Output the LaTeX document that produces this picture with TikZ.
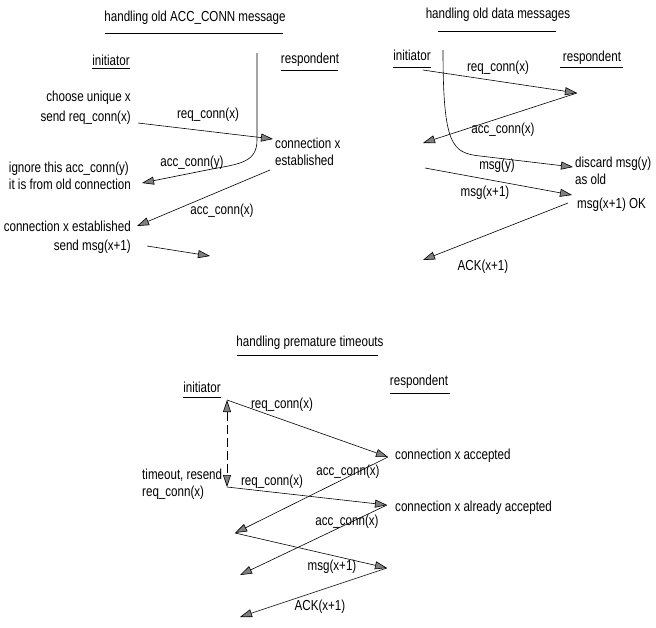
\documentclass[tikz,border=0pt]{standalone}
\usepackage{fontspec}
\setmainfont{Liberation Sans}[FakeStretch=0.8]
\usetikzlibrary{arrows.meta}

\begin{document}
\begin{tikzpicture}[x=1pt,y=-1pt,
    every node/.style={inner sep=0pt, font=\fontsize{14.5}{17}\selectfont},
    sig/.style={line width=0.6pt, -{Triangle[length=12pt,width=8pt,fill=gray]}},
    both/.style={line width=0.6pt, {Triangle[length=12pt,width=8pt,fill=gray]}-{Triangle[length=12pt,width=8pt,fill=gray]}}]
    \useasboundingbox (0,0) rectangle (656,627);

    % Headings
    \node (ttlA) at (195,18) {handling old ACC\_CONN message};
    \node (ttlB) at (498,15) {handling old data messages};
    \node (ttlC) at (310,343) {handling premature timeouts};
    \node (iniA) at (111,60) {initiator};
    \node (resA) at (310,60) {respondent};
    \node (iniB) at (412,55) {initiator};
    \node (resB) at (592,58) {respondent};
    \node (iniC) at (202,387) {initiator};
    \node (resC) at (419,382) {respondent};

    % Underlines
    \foreach \a/\b/\y in {105/283/33, 92/130/68, 281/338/70, 438/556/31, 393/431/67,
                          560/623/67, 237/378/355, 183/221/397, 390/450/393}
        \draw[line width=0.6pt] (\a,\y) -- (\b,\y);

    % ---- handling old ACC_CONN message ----
    \node[anchor=east] (chooseA) at (131,98) {choose unique x};
    \node[anchor=east] (sendA) at (131,118) {send req\_conn(x)};
    \node[anchor=west, align=left] (estA) at (275,152) {connection x\\established};
    \node[anchor=east, align=left] (ignA) at (131,176) {ignore this acc\_conn(y)\\it is from old connection};
    \node[anchor=east] (doneA) at (131,226) {connection x established};
    \node[anchor=east] (msgA) at (131,247) {send msg(x+1)};

    \coordinate (reqA0) at (138,123);
    \coordinate (reqA1) at (273,139);
    \coordinate (oldA0) at (257,53);
    \coordinate (oldA1) at (142,183);
    \coordinate (accA0) at (270,170);
    \coordinate (accA1) at (137,226);
    \coordinate (msgA0) at (147,246);
    \coordinate (msgA1) at (210,256);

    \draw[sig] (reqA0) -- (reqA1);
    \draw[sig] (oldA0) -- (257,140) .. controls (257,162) and (240,164) .. (212,169) -- (oldA1);
    \draw[sig] (accA0) -- (accA1);
    \draw[sig] (msgA0) -- (msgA1);

    \node (lreqA) at (208,115) {req\_conn(x)};
    \node (laccyA) at (192,163) {acc\_conn(y)};
    \node (laccA) at (222,211) {acc\_conn(x)};

    % ---- handling old data messages ----
    \node[anchor=west, align=left] (discB) at (575,171) {discard msg(y)\\as old};
    \node[anchor=west] (okB) at (577,205) {msg(x+1) OK};

    \coordinate (reqB0) at (423,70);
    \coordinate (reqB1) at (577,93);
    \coordinate (accB1) at (423,143);
    \coordinate (oldB0) at (443,50);
    \coordinate (oldB1) at (573,167);
    \coordinate (msgB0) at (425,168);
    \coordinate (msgB1) at (572,195);
    \coordinate (ackB0) at (568,203);
    \coordinate (ackB1) at (423,260);

    \draw[sig] (reqB0) -- (reqB1);
    \draw[sig] (reqB1) -- (accB1);
    \draw[sig] (oldB0) .. controls (443,145) and (452,153) .. (480,156) -- (oldB1);
    \draw[sig] (msgB0) -- (msgB1);
    \draw[sig] (ackB0) -- (ackB1);

    \node (lreqB) at (498,68) {req\_conn(x)};
    \node (laccB) at (503,130) {acc\_conn(x)};
    \node (lmsgyB) at (497,166) {msg(y)};
    \node (lmsgB) at (485,193) {msg(x+1)};
    \node (lackB) at (483,267) {ACK(x+1)};

    % ---- handling premature timeouts ----
    \node[anchor=west, align=left] (toC) at (142,484) {timeout, resend\\req\_conn(x)};
    \node[anchor=west] (okC1) at (395,456) {connection x accepted};
    \node[anchor=west] (okC2) at (395,508) {connection x already accepted};

    \coordinate (tC0) at (227,400);
    \coordinate (tC1) at (227,487);
    \coordinate (reqC1) at (388,457);
    \coordinate (reqC2) at (387,505);
    \coordinate (accC1) at (235,533);
    \coordinate (accC2) at (240,575);
    \coordinate (msgC1) at (387,568);
    \coordinate (ackC1) at (240,617);

    \draw[both, dash pattern=on 9pt off 4pt] (tC0) -- (tC1);
    \draw[sig] (tC0) -- (reqC1);
    \draw[sig] (reqC1) -- (accC1);
    \draw[sig] (tC1) -- (reqC2);
    \draw[sig] (reqC2) -- (accC2);
    \draw[sig] (accC1) -- (msgC1);
    \draw[sig] (msgC1) -- (ackC1);

    \node (lreqC1) at (282,405) {req\_conn(x)};
    \node (laccC1) at (348,472) {acc\_conn(x)};
    \node (lreqC2) at (272,482) {req\_conn(x)};
    \node (laccC2) at (347,522) {acc\_conn(x)};
    \node (lmsgC) at (332,567) {msg(x+1)};
    \node (lackC) at (320,607) {ACK(x+1)};
\end{tikzpicture}
\end{document}
